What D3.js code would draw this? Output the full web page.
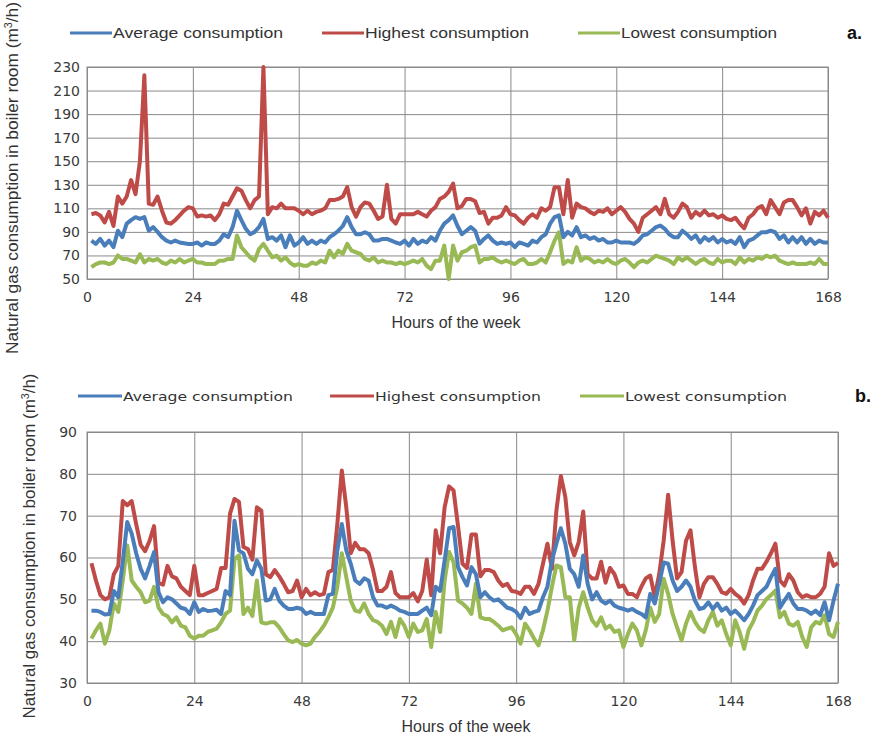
<!DOCTYPE html>
<html>
  <head>
    <meta charset="utf-8">
    <title>Natural gas consumption in boiler room</title>
    <script src="https://d3js.org/d3.v7.min.js"></script>
    <style>
      body {
        margin: 0;
        background-color: white;
      }
      svg {
        display: block;
      }
      .tick text {
        font-family: "DejaVu Sans", Verdana, sans-serif;
        font-size: 14px;
        fill: #3a3a3a;
      }
      .grid line {
        stroke: #8a8a8a;
        stroke-width: 1;
      }
    </style>
  </head>
  <body>
    <script>
      // hours of the week on the x axis
      const hours = d3.range(1, 169);
      const xTicks = [0, 24, 48, 72, 96, 120, 144, 168];

      // panel a
      const aYTicks = [50, 70, 90, 110, 130, 150, 170, 190, 210, 230];
      const aAverage = [
        82.6, 79.8, 84, 78.4, 82.6, 77, 91, 85.5, 97, 100,
        102.5, 101, 102.5, 91, 94, 90, 85.5, 82.6, 81, 82.6,
        81, 80.4, 79.8, 79.8, 81, 78.4, 81, 79.8, 79.8, 82.6,
        88, 85.5, 94, 108, 100, 92.6, 88, 90, 94, 101,
        84, 85.5, 82.6, 87, 77, 87, 78.4, 81, 85.5, 79.8,
        82.6, 79.8, 82.6, 81, 85.5, 88, 91, 95, 102.5, 94,
        88, 88, 89.7, 88, 82.6, 82.6, 84, 84, 82.6, 81,
        79.8, 82.6, 78.4, 84, 79.8, 82.6, 81, 85.5, 82.6, 91,
        97, 100, 104, 95, 88, 91, 94, 91, 80, 84,
        87, 82.6, 79.8, 81, 79.8, 81, 77, 81, 79.8, 78.4,
        82.6, 81, 85.5, 88, 97, 102.5, 104, 85.5, 90, 87,
        94, 85.5, 87, 84, 85.5, 82.6, 84, 81, 81, 82.6,
        81, 81, 81, 79.8, 82.6, 87, 88, 91, 94, 95.4,
        92.6, 88, 85.5, 85.5, 91, 88, 84, 87, 81, 85.5,
        82.6, 85.5, 81, 84, 81, 82.6, 79.8, 85.5, 77, 82.6,
        84, 87, 89.7, 89.7, 91, 89.7, 84, 87, 81, 85.5,
        81, 85.5, 79.8, 84, 79.8, 82.6, 81, 81
      ];
      const aHighest = [
        105, 106, 104, 98, 107, 95, 120, 114, 120, 134,
        122, 150, 223, 114, 113, 120, 108, 98, 97, 100,
        104, 108, 111, 110, 103, 104, 103, 104, 100, 105,
        114, 113, 120, 127, 125, 117, 110, 117, 120, 230,
        105, 111, 110, 114, 110, 110, 110, 108, 105, 108,
        105, 107, 108, 110, 117, 117, 118, 120, 128, 111,
        103, 111, 115, 114, 108, 101, 103, 130, 101, 97,
        105, 105, 105, 105, 107, 105, 103, 108, 111, 118,
        120, 124, 131, 110, 112, 118, 118, 116, 106, 107,
        97, 102, 102, 104, 111, 105, 104, 100, 97, 102,
        105, 102, 110, 108, 111, 128, 128, 105, 134, 102,
        114, 111, 110, 107, 105, 108, 107, 110, 105, 108,
        111, 107, 101, 97, 90, 102, 105, 108, 111, 105,
        118, 105, 102, 107, 114, 111, 102, 107, 104, 108,
        104, 105, 102, 104, 101, 100, 102, 97, 93, 102,
        105, 110, 112, 105, 117, 111, 105, 115, 117, 117,
        111, 104, 110, 97, 107, 104, 108, 102
      ];
      const aLowest = [
        60, 62.7, 64, 64, 62.7, 64, 70, 67, 67, 65.6,
        64, 71, 64, 67, 65.6, 67, 64, 62.7, 65.6, 64,
        67, 64, 65.6, 67, 64, 64, 62.7, 62.7, 62.7, 65.6,
        65.6, 67, 67, 87, 77, 72.7, 68.4, 65.6, 75.5, 79.8,
        74, 68.4, 69.8, 65.6, 68.4, 64, 61.3, 62.7, 61.3, 61.3,
        64, 62.7, 65.6, 64, 74, 68.4, 74, 71.3, 79.8, 74,
        72.7, 71.3, 67, 65.6, 68.4, 64, 65.6, 64, 64, 62.7,
        64, 62.7, 64, 65.6, 64, 67, 61.3, 58.4, 65.6, 65.6,
        78.4, 50, 78.4, 65.6, 72.7, 74, 77, 78.4, 64, 67,
        67, 68.4, 65.6, 64, 65.6, 64, 62.7, 65.6, 67, 62.7,
        62.7, 64, 67, 64, 72.7, 82.6, 89.7, 62.7, 65.6, 64,
        77, 65.6, 68.4, 67, 64, 65.6, 64, 67, 64, 62.7,
        65.6, 67, 64, 60, 64, 65.6, 64, 67, 69.8, 68.4,
        67, 65.6, 62.7, 68.4, 65.6, 68.4, 65.6, 62.7, 65.6, 67,
        64, 62.7, 67, 64, 65.6, 65.6, 62.7, 68.4, 64, 67,
        65.6, 68.4, 67, 69.8, 68.4, 69.8, 65.6, 64, 62.7, 64,
        62.7, 62.7, 62.7, 64, 62.7, 67, 62.7, 62.7
      ];

      // panel b
      const bYTicks = [30, 40, 50, 60, 70, 80, 90];
      const bAverage = [
        47.3, 47.3, 47, 46.4, 46.5, 52, 50.5, 59, 68.5, 65.7,
        61, 57.3, 55, 58, 61.3, 51.7, 49.3, 50.5, 50, 49,
        48, 47.7, 46.5, 49.3, 47, 47.7, 47.2, 47.3, 47.5, 46.5,
        52, 51, 68.8, 61.7, 61, 57.3, 56, 59.3, 57.3, 49.7,
        50, 52.5, 49.7, 48.5, 47.7, 47.7, 48, 47.7, 46.5, 47,
        46.5, 46.5, 46.5, 51, 51.3, 61.7, 68, 61.7, 58.5, 54.5,
        53.7, 55, 54.5, 50.5, 48.5, 48.5, 48, 48.5, 48, 47.3,
        47, 46.5, 46.5, 46.5, 47.3, 48, 46.2, 53, 52, 59.3,
        67, 67.3, 57.7, 55.3, 53.3, 57.7, 56, 50.5, 51.7, 50.5,
        49.7, 50, 49, 48, 47.7, 47, 45.5, 48, 46.5, 47,
        47.3, 50.5, 53, 59.3, 63.3, 67, 63.3, 57.3, 56, 53,
        60.5, 53.7, 50, 51.7, 49.7, 49, 49.7, 48.5, 48, 47.7,
        47.3, 47.7, 47, 46.5, 45.7, 51.3, 49, 53.7, 58.8, 58.5,
        54.5, 52, 53, 54.5, 53, 49.7, 47.7, 48, 49.3, 47.7,
        49, 47.3, 48, 46.5, 47.3, 46.2, 45, 46.5, 48.5, 51,
        52, 53, 55.3, 57.3, 48, 49.7, 51.3, 49, 47.7, 47.7,
        47.3, 46.5, 47.3, 46.2, 49.3, 45, 49.7, 53.7
      ];
      const bHighest = [
        58.6, 54.5, 51, 50, 50.5, 56, 58, 73.5, 72.5, 73.5,
        68, 63, 61.5, 64, 67.5, 54, 53.5, 58, 55.5, 55,
        53, 52, 51, 58, 51, 51, 51.5, 52, 52.5, 57.5,
        57.5, 70.5, 74, 73.3, 62.5, 62, 59.5, 72, 71.2, 56,
        55.3, 57, 55.5, 53.7, 51.7, 52, 54.5, 50.5, 52.5, 51,
        51.7, 51, 51.3, 56.5, 57, 68, 80.8, 72, 61, 63.5,
        62, 62, 61, 57, 52, 52, 53, 56.5, 51.5, 50.5,
        50.5, 50.5, 51.5, 49.5, 52, 59.5, 51, 66.5, 61, 72,
        77, 76, 67.5, 58.5, 57.5, 65.5, 65.5, 55.5, 57, 57,
        56.5, 54.5, 53.2, 53.7, 52, 51.8, 51.3, 53, 53, 51.3,
        53.7, 58.5, 63.3, 57.3, 71.2, 79.5, 74.5, 63.7, 60.5, 63.7,
        71, 56, 55, 55, 59, 54, 57.5, 56, 53, 53.3,
        51.3, 51.3, 50.5, 53, 55, 55.7, 50.6, 56, 64, 75,
        64, 55, 56.5, 64, 66.5, 57.7, 50.5, 53.7, 55.3, 55.3,
        53.7, 51.7, 51.3, 52.5, 51.3, 50.5, 49, 51, 54.5, 57.3,
        57.3, 59, 61, 63.3, 54.5, 53.3, 56, 54.5, 51.7, 50.5,
        51, 50.5, 50.5, 51.3, 53, 61, 58, 58.7
      ];
      const bLowest = [
        40.6, 42.6, 44.2, 39.4, 42.6, 49, 47, 54.5, 62.9, 54.5,
        53, 51.7, 49.3, 49.7, 53, 48, 46.5, 46, 44.5, 45.7,
        43.7, 43.3, 41.3, 40.6, 41.3, 41.3, 42.2, 42.6, 43, 44.5,
        46.5, 47.3, 59.7, 60.5, 46.5, 48, 46, 54.5, 44.5, 44.2,
        44.5, 44.5, 43.3, 41.7, 40.2, 39.8, 40.3, 39.4, 39, 39.4,
        41, 42.2, 43.7, 45.7, 48, 53, 61, 55.3, 49.7, 47.3,
        47, 49, 46.5, 45, 44.6, 43.7, 41.7, 44.6, 41, 45.3,
        43.7, 41, 44.2, 42.2, 42.6, 45.3, 38.6, 47, 42.2, 54.5,
        61.3, 58.9, 49.7, 49, 48, 46.5, 53.7, 45.7, 45.3, 45.3,
        44.6, 43.7, 42.6, 43, 43.3, 41.7, 39.4, 44.2, 42.6, 40.6,
        39, 42.6, 47.3, 53, 58.1, 57.7, 50.5, 50.5, 40.2, 48,
        51.7, 48, 45, 43.7, 45.7, 43, 43.7, 42.2, 42.6, 38.6,
        41.7, 44.2, 42.6, 39, 42.6, 48, 44.6, 46.5, 54.9, 51.3,
        46.5, 43.3, 40.2, 44.2, 47, 44.6, 43, 42.2, 45, 47,
        43.7, 45, 41.7, 39, 45, 42.2, 38.2, 42.6, 44.6, 47.3,
        48.5, 50.1, 51, 52.1, 45.7, 47, 44.2, 43.7, 44.6, 41,
        38.6, 43.3, 44.6, 44.2, 46.2, 41.7, 41, 44.6
      ];

      const seriesNames = ['Average consumption', 'Highest consumption', 'Lowest consumption'];
      const seriesColors = ['#4a7ebb', '#be4b48', '#98b954'];

      const svg = d3.select('body')
                    .append('svg')
                    .attr('width', 877)
                    .attr('height', 740);

      function drawPanel(p) {
        const x = d3.scaleLinear().domain([0, 168]).range([p.left, p.right]);
        const y = d3.scaleLinear().domain(p.yDomain).range([p.bottom, p.top]);
        const g = svg.append('g');

        // horizontal grid + y labels
        g.append('g')
         .attr('class', 'grid')
         .attr('transform', `translate(${p.left},0)`)
         .call(d3.axisLeft(y).tickValues(p.yTicks).tickSize(-(p.right - p.left)).tickPadding(p.yPad).tickFormat(d3.format('d')))
         .call(a => a.select('.domain').remove());

        // vertical grid + x labels
        g.append('g')
         .attr('class', 'grid')
         .attr('transform', `translate(0,${p.bottom})`)
         .call(d3.axisBottom(x).tickValues(xTicks).tickSize(-(p.bottom - p.top)).tickPadding(13))
         .call(a => a.select('.domain').remove());

        g.append('rect')
         .attr('x', p.left)
         .attr('y', p.top)
         .attr('width', p.right - p.left)
         .attr('height', p.bottom - p.top)
         .attr('fill', 'none')
         .attr('stroke', '#8a8a8a');

        const line = d3.line()
                       .x((d, i) => x(hours[i]))
                       .y(d => y(d));

        // lowest first so average ends up on top
        [2, 1, 0].forEach(k => {
          g.append('path')
           .datum(p.series[k])
           .attr('d', line)
           .attr('fill', 'none')
           .attr('stroke', seriesColors[k])
           .attr('stroke-width', 4)
           .attr('stroke-linejoin', 'round');
        });

        // legend
        seriesNames.forEach((name, k) => {
          const lx = p.legend.x[k];
          g.append('line')
           .attr('x1', lx)
           .attr('x2', lx + p.legend.lineLen)
           .attr('y1', p.legend.y)
           .attr('y2', p.legend.y)
           .attr('stroke', seriesColors[k])
           .attr('stroke-width', 3);
          g.append('text')
           .attr('x', lx + p.legend.lineLen + 1)
           .attr('y', p.legend.y + 5)
           .attr('textLength', p.legend.textLen[k])
           .attr('lengthAdjust', 'spacingAndGlyphs')
           .style('font-family', p.legend.font)
           .style('font-size', p.legend.size + 'px')
           .style('fill', '#333')
           .text(name);
        });

        g.append('text')
         .attr('x', p.tag.x)
         .attr('y', p.legend.y + 6)
         .style('font-family', '"Liberation Sans", Arial, sans-serif')
         .style('font-size', '18px')
         .style('font-weight', 'bold')
         .style('fill', '#111')
         .text(p.tag.text);

        // axis titles
        g.append('text')
         .attr('x', p.titleX)
         .attr('y', p.bottom + 49)
         .attr('text-anchor', 'middle')
         .style('font-family', '"Liberation Sans", Arial, sans-serif')
         .style('font-size', '16px')
         .style('fill', '#333')
         .text('Hours of the week');

        const yt = g.append('text')
                    .attr('transform', `translate(${p.yTitle.x},${p.yTitle.y}) rotate(-90)`)
                    .attr('text-anchor', 'middle')
                    .attr('textLength', p.yTitle.len)
                    .attr('lengthAdjust', 'spacingAndGlyphs')
                    .style('font-family', '"Liberation Sans", Arial, sans-serif')
                    .style('font-size', '16px')
                    .style('fill', '#333');
        yt.append('tspan').text('Natural gas consumption in boiler room (m');
        yt.append('tspan').attr('dy', -6).style('font-size', '10px').text('3');
        yt.append('tspan').attr('dy', 6).text('/h)');
      }

      drawPanel({
        left: 87, right: 828, top: 67, bottom: 279,
        yDomain: [50, 230], yTicks: aYTicks, yPad: 7,
        series: [aAverage, aHighest, aLowest],
        legend: { x: [70, 322, 578], y: 33, lineLen: 42, textLen: [170, 164, 156], font: '"Liberation Sans", Arial, sans-serif', size: 15 },
        tag: { x: 847, text: 'a.' },
        titleX: 456,
        yTitle: { x: 18, y: 178, len: 352 }
      });

      drawPanel({
        left: 87, right: 838, top: 432, bottom: 683,
        yDomain: [30, 90], yTicks: bYTicks, yPad: 10,
        series: [bAverage, bHighest, bLowest],
        legend: { x: [78, 330, 580], y: 396, lineLen: 44, textLen: [170, 166, 162], font: '"DejaVu Sans", Verdana, sans-serif', size: 13 },
        tag: { x: 855, text: 'b.' },
        titleX: 466,
        yTitle: { x: 35, y: 546, len: 345 }
      });
    </script>
  </body>
</html>
